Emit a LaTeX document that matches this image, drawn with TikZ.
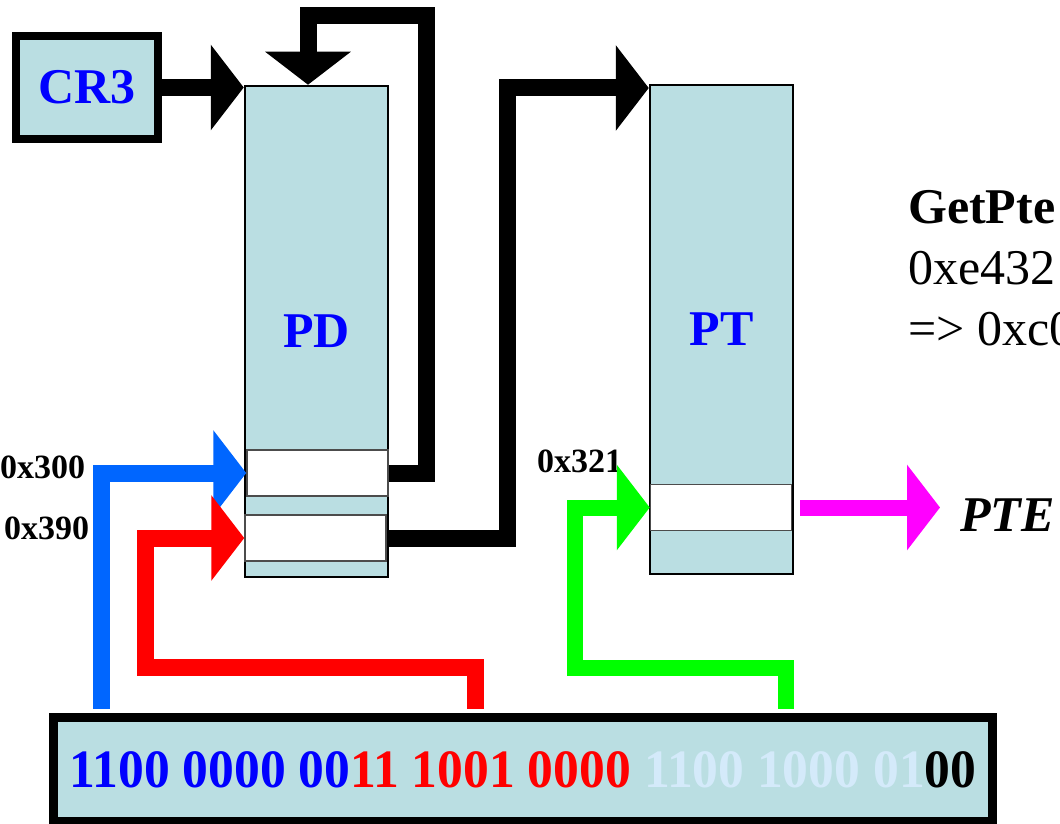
\documentclass[tikz,border=0pt]{standalone}
\usepackage{fontspec}
\setmainfont{Liberation Serif}
\usepackage{xcolor}
\usepackage{graphicx}
\usepackage{tikz}
\usetikzlibrary{arrows.meta,positioning,calc}
\definecolor{tablefill}{RGB}{186,222,226}
\definecolor{textblue}{RGB}{0,0,255}
\definecolor{idxblue}{RGB}{0,102,255}
\definecolor{idxgreen}{RGB}{0,255,0}
\definecolor{ptemagenta}{RGB}{255,0,255}
\definecolor{bitpale}{RGB}{212,234,250}

\begin{document}
\begin{tikzpicture}[x=1pt,y=-1pt,>={Triangle[length=33pt 0,width=84pt 0]},
  every node/.style={font=\bfseries\fontsize{50}{61}\selectfont},
  tbl/.style={draw,line width=2.5pt,fill=tablefill,minimum width=143pt,inner sep=0pt,text=textblue},
  slot/.style={draw=black!70,line width=1.5pt,fill=white,minimum width=141pt,minimum height=46pt,inner sep=0pt},
  idx/.style={font=\bfseries\fontsize{34}{40}\selectfont,inner sep=0pt,anchor=west}]
\useasboundingbox (0,0) rectangle (1060,824);
% tables
\node[draw,line width=8pt,fill=tablefill,minimum width=142pt,minimum height=103pt,inner sep=0pt,text=textblue] (cr3) at (87,87.5) {CR3};
\node[tbl,minimum height=491pt] (pd) at (316.5,331.5) {PD};
\node[slot] (pdA) at (317.5,473) {};
\node[slot] (pdB) at (315.5,538) {};
\node[tbl,minimum height=489pt] (pt) at (721.5,329.5) {PT};
\node[slot] (ptA) at (721,507.5) {};
\node[idx] (lblA) at (0,467) {0x300};
\node[idx] (lblB) at (4,528) {0x390};
\node[idx] (lblC) at (537,461) {0x321};
\node[font=\bfseries\itshape\fontsize{50}{61}\selectfont,anchor=west,inner sep=0pt] (pte) at (960,515) {PTE};
\node[font=\fontsize{50}{61}\selectfont,anchor=north west,align=left,inner sep=0pt] (note) at (908,190) {\textbf{GetPte}\\0xe432\\=> 0xc0};
% virtual address
\node[draw,line width=9pt,fill=tablefill,minimum width=939pt,minimum height=104pt,inner sep=0pt,font=\bfseries\fontsize{54}{60}\selectfont] (va) at (523,769.5)
  {\scalebox{0.955}[1]{\textcolor{textblue}{1100 0000 00}\textcolor{red}{11 1001 0000} \textcolor{bitpale}{1100 1000 01}00}};
% arrows
\coordinate (loopR) at (426,16);
\coordinate (bendB) at (507,88);
\coordinate (redL) at (145,667);
\coordinate (greenL) at (575,668);
\draw[->,line width=17pt] (cr3.east) -- (cr3.east -| pd.west);
\draw[->,line width=17pt] (pdA.east) -| (loopR) -| ([xshift=-8.5pt]pd.north);
\draw[->,line width=17pt] (pdB.east) -| (bendB) -- (bendB -| pt.west);
\draw[->,idxblue,line width=17pt] ([xshift=52.5pt,yshift=4.5pt]va.north west) |- (pdA.west);
\draw[->,red,line width=17pt] ([xshift=426pt,yshift=4.5pt]va.north west) |- (redL) |- (pdB.west);
\draw[->,idxgreen,line width=16pt] ([xshift=736.5pt,yshift=4.5pt]va.north west) |- (greenL) |- (ptA.west);
\draw[->,ptemagenta,line width=16pt,shorten <=8pt,shorten >=20pt] (ptA.east) -- (ptA.east -| pte.west);
\end{tikzpicture}
\end{document}
